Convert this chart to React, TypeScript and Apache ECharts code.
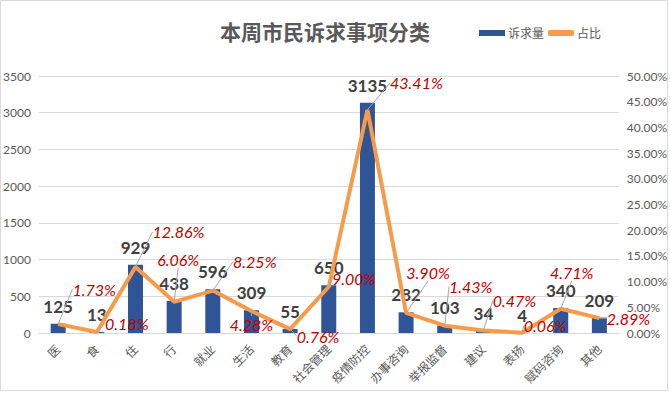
import React, { useEffect, useRef } from "react";
import * as echarts from "echarts";

const categories = ["医", "食", "住", "行", "就业", "生活", "教育", "社会管理", "疫情防控", "办事咨询", "举报监督", "建议", "表扬", "赋码咨询", "其他"];
const counts = [125, 13, 929, 438, 596, 309, 55, 650, 3135, 282, 103, 34, 4, 340, 209];
const shares = [1.73, 0.18, 12.86, 6.06, 8.25, 4.28, 0.76, 9.0, 43.41, 3.9, 1.43, 0.47, 0.06, 4.71, 2.89];
const leftTicks = [0, 3500, 500];
const rightTicks = [0, 50, 5];

// label placement offsets (layout only)
const pctLabelOffsets: [number, number][] = [
  [36, -35], [30, -9], [43, -35], [4, -42], [42, -29], [0, 13], [28, 7], [25, -8],
  [49, -27], [22, -40], [26, -39], [31, -30], [23, -7], [11, -36], [29, 0],
];

const FONT = "Lato, 'Noto Sans CJK SC', sans-serif";

export default function App() {
  const ref = useRef<HTMLDivElement>(null);
  useEffect(() => {
    document.body.style.margin = "0";
    const chart = echarts.init(ref.current!, undefined, { renderer: "svg" });
    chart.setOption({
      animation: false,
      backgroundColor: "#ffffff",
      title: {
        text: "本周市民诉求事项分类",
        left: 215,
        top: 15,
        textStyle: { fontSize: 21, fontWeight: "bold", color: "#595959", fontFamily: "'Noto Sans CJK SC', serif" },
      },
      legend: {
        left: 474,
        top: 22,
        itemWidth: 26,
        itemHeight: 6,
        itemGap: 4,
        textStyle: { fontSize: 12, color: "#595959", fontFamily: FONT, padding: [0, 0, 0, -2] },
        data: [
          { name: "诉求量", icon: "rect" },
          { name: "占比", icon: "roundRect" },
        ],
      },
      graphic: [
        {
          type: "rect",
          shape: { x: 0.5, y: 0.5, width: 667, height: 390 },
          style: { fill: "none", stroke: "#d9d9d9", lineWidth: 1 },
          silent: true,
        },
      ],
      grid: { left: 38, right: 50, top: 76, bottom: 60 },
      xAxis: {
        type: "category",
        data: categories,
        axisLine: { lineStyle: { color: "#d9d9d9" } },
        axisTick: { show: false },
        axisLabel: { rotate: 45, interval: 0, fontSize: 12, color: "#595959", fontFamily: FONT, margin: 14 },
      },
      yAxis: [
        {
          type: "value",
          min: leftTicks[0],
          max: leftTicks[1],
          interval: leftTicks[2],
          axisLabel: { fontSize: 12, color: "#595959", fontFamily: FONT, margin: 8, formatter: (v: number) => String(v) },
          splitLine: { lineStyle: { color: "#d9d9d9" } },
          axisLine: { show: false },
          axisTick: { show: false },
        },
        {
          type: "value",
          min: rightTicks[0],
          max: rightTicks[1],
          interval: rightTicks[2],
          axisLabel: {
            fontSize: 12,
            color: "#595959",
            fontFamily: FONT,
            margin: 8,
            formatter: (v: number) => v.toFixed(2) + "%",
          },
          splitLine: { show: false },
          axisLine: { show: false },
          axisTick: { show: false },
        },
      ],
      series: [
        {
          name: "诉求量",
          type: "bar",
          data: counts,
          barWidth: 15,
          itemStyle: { color: "#2F5597" },
          label: {
            show: true,
            position: "top",
            distance: 9,
            fontSize: 17,
            fontWeight: "bold",
            color: "#404040",
            fontFamily: FONT,
          },
        },
        {
          name: "占比",
          type: "line",
          yAxisIndex: 1,
          data: shares,
          symbol: "circle",
          symbolSize: 1,
          showSymbol: true,
          lineStyle: { color: "#F79B4B", width: 4 },
          itemStyle: { color: "#F79B4B" },
          label: {
            show: true,
            position: "inside",
            fontSize: 16,
            fontStyle: "italic",
            color: "#C00000",
            fontFamily: FONT,
            formatter: (p: any) => Number(p.value).toFixed(2) + "%",
          },
          labelLine: { show: true, lineStyle: { color: "#A6A6A6", width: 1 } },
          labelLayout: (p: any) => {
            const o = pctLabelOffsets[p.dataIndex] || [0, 0];
            return { dx: o[0], dy: o[1] };
          },
        },
      ],
    });
    return () => chart.dispose();
  }, []);
  return <div ref={ref} style={{ position: "fixed", left: 0, top: 0, width: 670, height: 393 }} />;
}
